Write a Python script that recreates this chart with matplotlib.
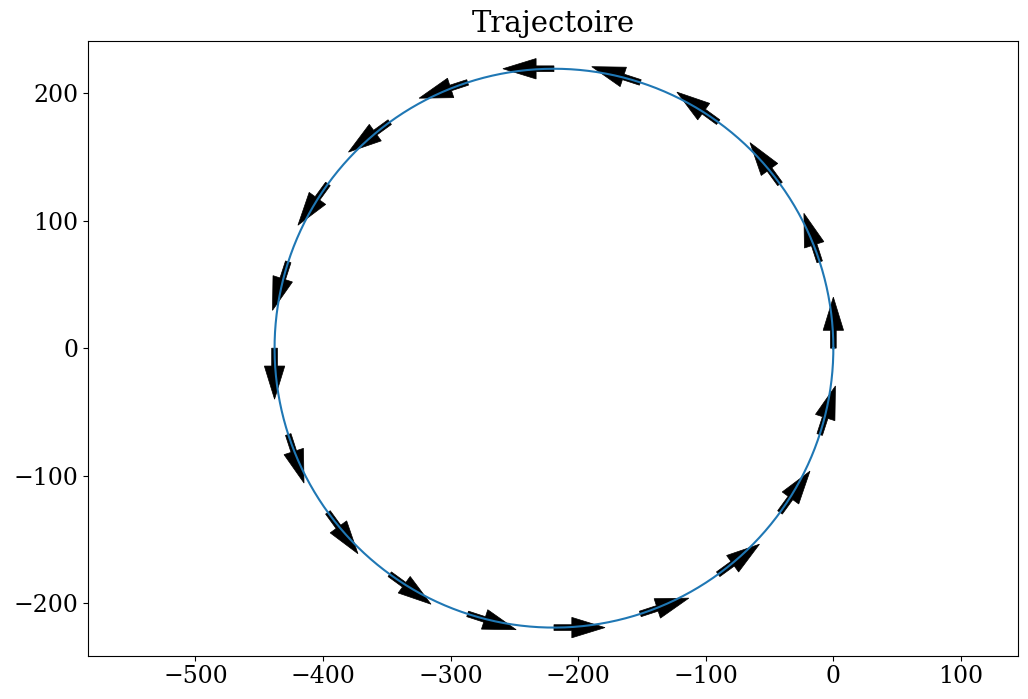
import numpy as np
import matplotlib
matplotlib.use('Agg')
import matplotlib.pyplot as plt

plt.rcParams['font.family'] = 'DejaVu Serif'
plt.rcParams['font.size'] = 17

# Trajectoire circulaire (centre, rayon)
centre_x = -219.0
centre_y = 0.0
rayon = 219.0

# angles (degrés) des flèches de vitesse le long de la trajectoire
angles_fleches = [0, 18, 36, 54, 72, 90, 108, 126, 144, 162,
                  180, 198, 216, 234, 252, 270, 288, 306, 324, 342]
longueur_queue = 14.0

t = np.linspace(0, 2 * np.pi, 600)
x = centre_x + rayon * np.cos(t)
y = centre_y + rayon * np.sin(t)

fig = plt.figure(figsize=(10.28, 6.99), dpi=100)
fig.subplots_adjust(left=0.0859, right=0.9906, top=0.9418, bottom=0.0620)
ax = fig.add_subplot(111)

for a in angles_fleches:
    th = np.radians(a)
    x0 = centre_x + rayon * np.cos(th)
    y0 = centre_y + rayon * np.sin(th)
    dx = -np.sin(th) * longueur_queue
    dy = np.cos(th) * longueur_queue
    ax.arrow(x0, y0, dx, dy, width=4.5, head_width=16, head_length=26,
             color='black', linewidth=0.5)

ax.plot(x, y)
ax.set_title('Trajectoire', fontsize=21)
ax.set_xlim(-584, 145)
ax.set_ylim(-241, 241)

fig.savefig('out.png', dpi=100)
